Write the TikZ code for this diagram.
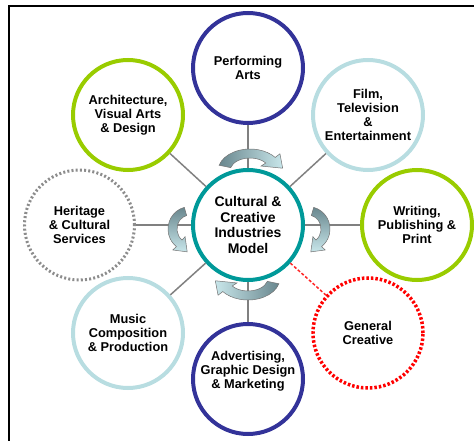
\documentclass[tikz,border=0pt]{standalone}
\usepackage{fontspec}
\setmainfont{Liberation Sans}
\usepackage{tikz}
\usetikzlibrary{positioning}

\definecolor{ringnavy}{RGB}{51,51,153}
\definecolor{ringsky}{RGB}{184,221,225}
\definecolor{ringlime}{RGB}{153,204,0}
\definecolor{ringteal}{RGB}{0,153,153}
\definecolor{ringgray}{RGB}{140,140,140}
\definecolor{spokegray}{RGB}{128,128,128}
\definecolor{turndark}{RGB}{105,135,142}
\definecolor{turnlight}{RGB}{200,230,234}

\tikzset{
  ring/.style={circle, draw=#1, line width=4pt, minimum size=110pt, inner sep=0pt,
    align=center, font=\bfseries\fontsize{12.8}{14}\selectfont},
  spoke/.style={draw=spokegray, line width=1.5pt},
  % curved block arrow, running clockwise over the top
  turn/.pic={
    \shade[draw=black!55, line width=0.5pt, #1]
      (165:32pt and 22pt) arc[start angle=165, end angle=38, x radius=32pt, y radius=22pt]
      -- (38:38pt and 28pt) -- (8:33pt and 20pt) -- (38:14pt and 8pt)
      -- (38:20pt and 13pt) arc[start angle=38, end angle=165, x radius=20pt, y radius=13pt]
      -- cycle;
  }
}

\begin{document}
\begin{tikzpicture}[x=1pt, y=-1pt]
        \useasboundingbox (0,0) rectangle (474,441);
        \draw[line width=2pt] (474,6) -- (9,6) -- (9,441);

        \node[ring=ringteal, font=\bfseries\fontsize{14}{15.5}\selectfont] (cci) at (248,225) {Cultural \&\\Creative\\Industries\\Model};
        \node[ring=ringnavy] (perf) [above=43pt of cci] {Performing\\Arts};
        \node[ring=ringnavy, label={[align=center, font=\bfseries\fontsize{12.8}{14}\selectfont, yshift=8pt]center:{Advertising,\\Graphic Design\\\& Marketing}}] (adv) [below=40pt of cci] {};
        \node[ring=ringlime] (write) [right=55pt of cci] {Writing,\\Publishing \&\\Print};
        \node[ring=ringgray, dash pattern=on 2pt off 2.2pt, line width=3pt] (herit) [left=55pt of cci] {Heritage\\\& Cultural\\Services};
        \node[ring=ringlime] (arch) at (128,115) {Architecture,\\Visual Arts\\\& Design};
        \node[ring=ringsky] (film) at (368,115) {Film,\\Television\\\&\\Entertainment};
        \node[ring=ringsky] (music) at (128,333) {Music\\Composition\\\& Production};
        \node[ring=red, dash pattern=on 2.5pt off 2pt, line width=3.5pt] (gen) at (368,333) {General\\Creative};

        \draw[spoke] (cci) -- (perf);
        \draw[spoke] (cci) -- (adv);
        \draw[spoke] (cci) -- (write);
        \draw[spoke] (cci) -- (herit);
        \draw[spoke] (cci) -- (arch);
        \draw[spoke] (cci) -- (film);
        \draw[spoke] (cci) -- (music);
        \draw[red!85, line width=1.5pt, dash pattern=on 3pt off 2pt] (cci) -- (gen);

        \pic at (250,171) {turn={left color=turndark, right color=turnlight}};
        \pic[rotate=180] at (248,278) {turn={right color=turndark, left color=turnlight}};
        \pic[rotate=-90, xscale=0.7] at (308,229) {turn={top color=turndark, bottom color=turnlight}};
        \pic[xscale=-1, rotate=-90, xscale=0.7] at (190,229) {turn={top color=turndark, bottom color=turnlight}};
      \end{tikzpicture}
\end{document}
